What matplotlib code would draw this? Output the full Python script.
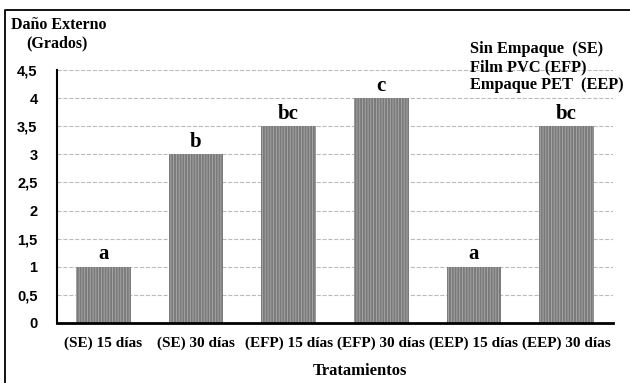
import matplotlib.pyplot as plt
from matplotlib.lines import Line2D

# datos del grafico
tratamientos = ["(SE) 15 días", "(SE) 30 días", "(EFP) 15 días",
                "(EFP) 30 días", "(EEP) 15 días", "(EEP) 30 días"]
dano = [1, 3, 3.5, 4, 1, 3.5]
letras = ["a", "b", "bc", "c", "a", "bc"]
yticks = [0, 0.5, 1, 1.5, 2, 2.5, 3, 3.5, 4, 4.5]
yticklabels = ["0", "0,5", "1", "1,5", "2", "2,5", "3", "3,5", "4", "4,5"]
leyenda = ["Sin Empaque  (SE)", "Film PVC (EFP)", "Empaque PET  (EEP)"]

serif = "Liberation Serif"
sans = "Liberation Sans"
plt.rcParams["hatch.linewidth"] = 0.6

fig = plt.figure(figsize=(6.3, 3.83), dpi=100)
# marco (solo arriba e izquierda visibles)
fig.lines.append(Line2D([0.008, 0.008, 1.0], [0.0, 0.974, 0.974],
                        transform=fig.transFigure, color="black", linewidth=1.3))

ax = fig.add_axes([0.0905, 0.157, 0.8825, 0.66])
x = range(len(tratamientos))
ax.bar(x, dano, width=0.59, color="#7a7a7a", edgecolor="#acacac",
       hatch="||||||", linewidth=0, zorder=2)
for i, (v, l) in enumerate(zip(dano, letras)):
    ax.text(i, v + 0.04, l, ha="center", va="bottom", family=serif,
            fontweight="bold", fontsize=15)

ax.set_ylim(0, 4.5)
ax.set_xlim(-0.5, 5.5)
ax.set_yticks(yticks)
ax.set_yticklabels(yticklabels, family=sans, fontweight="bold", fontsize=10.5)
ax.set_xticks(list(x))
ax.set_xticklabels(tratamientos, family=serif, fontweight="bold", fontsize=11)
ax.tick_params(axis="y", length=0, pad=14)
ax.tick_params(axis="x", length=0, pad=10)
ax.yaxis.grid(True, linestyle="--", color="#bbbbbb", linewidth=0.8, zorder=0)
for s in ["top", "right"]:
    ax.spines[s].set_visible(False)
ax.spines["left"].set_linewidth(1.5)
ax.spines["bottom"].set_linewidth(2)

fig.text(0.017, 0.934, "Daño Externo", family=serif, fontweight="bold", fontsize=11.5,
         va="center")
fig.text(0.041, 0.887, "(Grados)", family=serif, fontweight="bold", fontsize=11.5,
         va="center")
fig.text(0.572, 0.031, "Tratamientos", family=serif, fontweight="bold", fontsize=12,
         ha="center", va="center")
for j, t in enumerate(leyenda):
    fig.text(0.746, 0.872 - j * 0.047, t, family=serif, fontweight="bold",
             fontsize=11.8, va="center")

fig.savefig("out.png", dpi=100)
